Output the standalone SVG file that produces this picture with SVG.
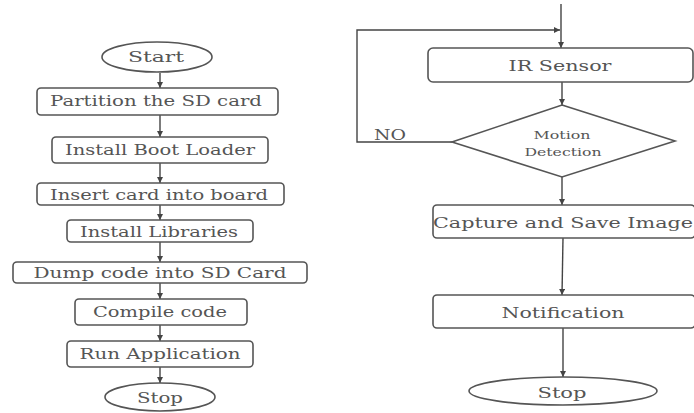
<svg xmlns="http://www.w3.org/2000/svg" width="694" height="413" viewBox="0 0 694 413">
<style>
.box{fill:#fff;stroke:#555;stroke-width:1.6}
.t{font-family:"DejaVu Serif","Liberation Serif",serif;font-size:14px;fill:#555;text-anchor:middle}
.s{font-size:11px}
.ln{fill:none;stroke:#444;stroke-width:1.4}
</style>
<defs>
<marker id="ah" viewBox="0 0 10 10" refX="10" refY="5" markerWidth="6" markerHeight="6" orient="auto" markerUnits="userSpaceOnUse">
<path d="M0,0 L10,5 L0,10 Z" fill="#444"/>
</marker>
</defs>
<rect width="694" height="413" fill="#fff"/>
<g id="connectors">
<line class="ln" x1="160" y1="73" x2="160" y2="88" marker-end="url(#ah)"/>
<line class="ln" x1="160" y1="115" x2="160" y2="137" marker-end="url(#ah)"/>
<line class="ln" x1="160" y1="163" x2="160" y2="183" marker-end="url(#ah)"/>
<line class="ln" x1="160" y1="205" x2="160" y2="220" marker-end="url(#ah)"/>
<line class="ln" x1="160" y1="242" x2="160" y2="262" marker-end="url(#ah)"/>
<line class="ln" x1="160" y1="283" x2="160" y2="299" marker-end="url(#ah)"/>
<line class="ln" x1="160" y1="325" x2="160" y2="341" marker-end="url(#ah)"/>
<line class="ln" x1="160" y1="367" x2="160" y2="383" marker-end="url(#ah)"/>
<line class="ln" x1="561" y1="4" x2="561" y2="48" marker-end="url(#ah)"/>
<polyline class="ln" points="452,142 357,142 357,30 560,30" marker-end="url(#ah)"/>
<line class="ln" x1="562" y1="82" x2="562" y2="105" marker-end="url(#ah)"/>
<line class="ln" x1="562" y1="177" x2="562" y2="205" marker-end="url(#ah)"/>
<line class="ln" x1="563" y1="238" x2="562" y2="295" marker-end="url(#ah)"/>
<line class="ln" x1="563" y1="328" x2="563" y2="377" marker-end="url(#ah)"/>
<text class="t" x="390" y="140" textLength="32" lengthAdjust="spacingAndGlyphs">NO</text>
</g>
<g id="start"><ellipse class="box" cx="157" cy="57" rx="55" ry="15"/><text class="t" x="156" y="62" textLength="56" lengthAdjust="spacingAndGlyphs">Start</text></g>
<g id="partition"><rect class="box" x="37" y="88" width="241" height="27" rx="4"/><text class="t" x="156" y="106" textLength="212" lengthAdjust="spacingAndGlyphs">Partition the SD card</text></g>
<g id="bootloader"><rect class="box" x="52" y="137" width="216" height="26" rx="4"/><text class="t" x="160" y="155" textLength="190" lengthAdjust="spacingAndGlyphs">Install Boot Loader</text></g>
<g id="insert"><rect class="box" x="37" y="183" width="247" height="22" rx="4"/><text class="t" x="159" y="200" textLength="218" lengthAdjust="spacingAndGlyphs">Insert card into board</text></g>
<g id="libraries"><rect class="box" x="67" y="220" width="186" height="22" rx="4"/><text class="t" x="159" y="237" textLength="158" lengthAdjust="spacingAndGlyphs">Install Libraries</text></g>
<g id="dump"><rect class="box" x="13" y="262" width="294" height="21" rx="4"/><text class="t" x="160" y="278" textLength="253" lengthAdjust="spacingAndGlyphs">Dump code into SD Card</text></g>
<g id="compile"><rect class="box" x="75" y="299" width="172" height="26" rx="4"/><text class="t" x="160" y="317" textLength="134" lengthAdjust="spacingAndGlyphs">Compile code</text></g>
<g id="run"><rect class="box" x="67" y="341" width="186" height="26" rx="4"/><text class="t" x="160" y="359" textLength="161" lengthAdjust="spacingAndGlyphs">Run Application</text></g>
<g id="stop1"><ellipse class="box" cx="160" cy="397" rx="55" ry="14"/><text class="t" x="160" y="403" textLength="46" lengthAdjust="spacingAndGlyphs">Stop</text></g>
<g id="ir"><rect class="box" x="428" y="48" width="265" height="34" rx="5"/><text class="t" x="560" y="71" textLength="103" lengthAdjust="spacingAndGlyphs">IR Sensor</text></g>
<g id="motion"><polygon class="box" points="562,105 675,141 562,177 452,142"/><text class="t s" x="562" y="139" textLength="57" lengthAdjust="spacingAndGlyphs">Motion</text><text class="t s" x="563" y="156" textLength="77" lengthAdjust="spacingAndGlyphs">Detection</text></g>
<g id="capture"><rect class="box" x="433" y="205" width="262" height="33" rx="4"/><text class="t" x="563" y="228" textLength="260" lengthAdjust="spacingAndGlyphs">Capture and Save Image</text></g>
<g id="notification"><rect class="box" x="433" y="295" width="262" height="33" rx="4"/><text class="t" x="563" y="318" textLength="123" lengthAdjust="spacingAndGlyphs">Notification</text></g>
<g id="stop2"><ellipse class="box" cx="563" cy="391" rx="94" ry="14"/><text class="t" x="562" y="398" textLength="49" lengthAdjust="spacingAndGlyphs">Stop</text></g>
</svg>
